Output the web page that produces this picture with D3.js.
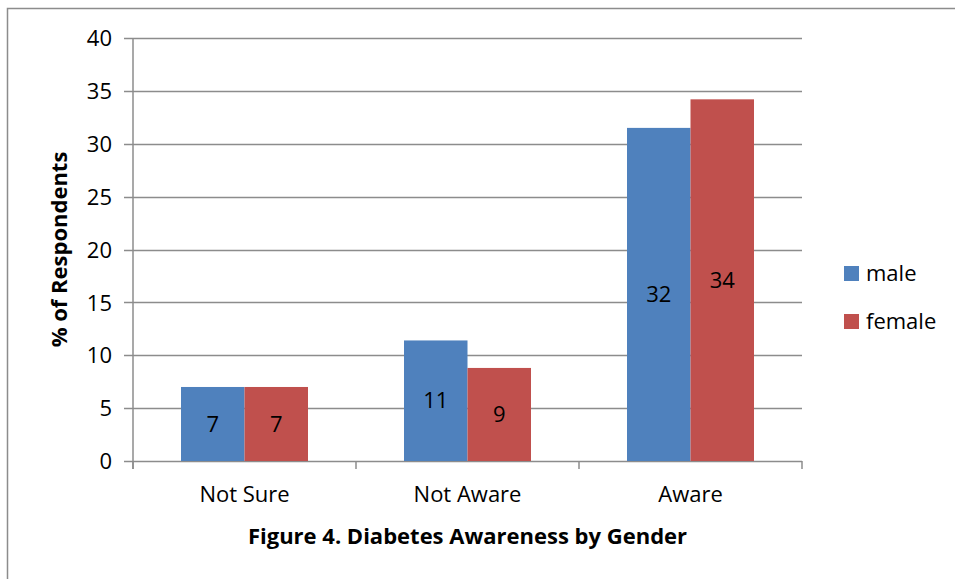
<!DOCTYPE html>
<html>
<head>
<meta charset="utf-8">
<script src="https://cdn.jsdelivr.net/npm/d3@7"></script>
<style>
  body { margin: 0; background: #fff; }
  text { font-family: "Open Sans", sans-serif; fill: #000; }
</style>
</head>
<body>
<svg id="chart" width="955" height="579"></svg>
<script>
var categories = ["Not Sure", "Not Aware", "Aware"];
var seriesNames = ["male", "female"];
var male = [7.0, 11.4, 31.5];
var female = [7.0, 8.8, 34.2];
var labels = [[7, 7], [11, 9], [32, 34]];
var yTicks = [0, 5, 10, 15, 20, 25, 30, 35, 40];

var colors = ["#4F81BD", "#C0504D"];

var svg = d3.select("#chart"),
    margin = {top: 38, left: 133},
    width = 669,
    height = 423;

// outer frame
svg.append("rect")
    .attr("x", 7.5).attr("y", 8.5)
    .attr("width", 955).attr("height", 600)
    .attr("fill", "none").attr("stroke", "#8c8c8c").attr("stroke-width", 1.5);

var g = svg.append("g").attr("transform", "translate(" + margin.left + "," + margin.top + ")");

var x0 = d3.scaleBand().domain(categories).range([0, width]).paddingInner(0).paddingOuter(0);
var x1 = d3.scaleBand().domain(seriesNames).range([48, x0.bandwidth() - 48]);
var y = d3.scaleLinear().domain([0, 40]).range([height, 0]);

// gridlines
g.append("g")
    .selectAll("line")
    .data(yTicks)
    .enter().append("line")
    .attr("x1", -9).attr("x2", width)
    .attr("y1", function(d) { return Math.round(y(d)) + 0.5; })
    .attr("y2", function(d) { return Math.round(y(d)) + 0.5; })
    .attr("stroke", "#8c8c8c").attr("stroke-width", 1.5);

// y axis labels
var yAxis = g.append("g")
    .call(d3.axisLeft(y).tickValues(yTicks).tickSize(9).tickPadding(12));
yAxis.select(".domain").remove();
yAxis.selectAll(".tick line").remove();
yAxis.selectAll("text").style("font-size", "22px").attr("dy", "0.35em");

// x axis
var xAxis = g.append("g")
    .attr("transform", "translate(0," + height + ")")
    .call(d3.axisBottom(x0).tickSize(0).tickPadding(25));
xAxis.select(".domain").remove();
xAxis.selectAll("text").style("font-size", "22px");
g.append("g").selectAll("line")
    .data(d3.range(categories.length + 1))
    .enter().append("line")
    .attr("x1", function(i) { return i * x0.bandwidth(); })
    .attr("x2", function(i) { return i * x0.bandwidth(); })
    .attr("y1", height).attr("y2", height + 8)
    .attr("stroke", "#8c8c8c").attr("stroke-width", 1.5);
g.append("line")
    .attr("x1", 0).attr("x2", 0).attr("y1", 0).attr("y2", height + 8)
    .attr("stroke", "#8c8c8c").attr("stroke-width", 1.5);

// bars
var rows = categories.map(function(c, i) {
    return {cat: c, values: [male[i], female[i]], labels: labels[i]};
});

var grp = g.selectAll(".grp")
    .data(rows)
    .enter().append("g")
    .attr("transform", function(d) { return "translate(" + x0(d.cat) + ",0)"; });

grp.selectAll("rect")
    .data(function(d) { return d.values.map(function(v, j) { return {v: v, s: seriesNames[j], j: j}; }); })
    .enter().append("rect")
    .attr("x", function(d) { return x1(d.s); })
    .attr("width", x1.bandwidth())
    .attr("y", function(d) { return y(d.v); })
    .attr("height", function(d) { return height - y(d.v); })
    .attr("fill", function(d) { return colors[d.j]; });

grp.selectAll(".lbl")
    .data(function(d) { return d.values.map(function(v, j) { return {v: v, s: seriesNames[j], l: d.labels[j]}; }); })
    .enter().append("text")
    .attr("class", "lbl")
    .attr("x", function(d) { return x1(d.s) + x1.bandwidth() / 2; })
    .attr("y", function(d) { return (y(d.v) + height) / 2; })
    .attr("dy", "0.35em")
    .attr("text-anchor", "middle")
    .style("font-size", "22px")
    .text(function(d) { return d.l; });

// y title
svg.append("text")
    .attr("transform", "translate(67," + (margin.top + height / 2) + ") rotate(-90)")
    .attr("text-anchor", "middle")
    .style("font-size", "22px").style("font-weight", "bold")
    .text("% of Respondents");

// chart title
svg.append("text")
    .attr("x", margin.left + width / 2).attr("y", 544)
    .attr("text-anchor", "middle")
    .style("font-size", "22px").style("font-weight", "bold")
    .text("Figure 4. Diabetes Awareness by Gender");

// legend
var leg = svg.append("g").attr("transform", "translate(844,266)");
seriesNames.forEach(function(s, i) {
    leg.append("rect").attr("x", 0).attr("y", i * 48).attr("width", 15).attr("height", 15).attr("fill", colors[i]);
    leg.append("text").attr("x", 22).attr("y", i * 48 + 7.5).attr("dy", "0.35em")
        .style("font-size", "22px").text(s);
});
</script>
</body>
</html>
